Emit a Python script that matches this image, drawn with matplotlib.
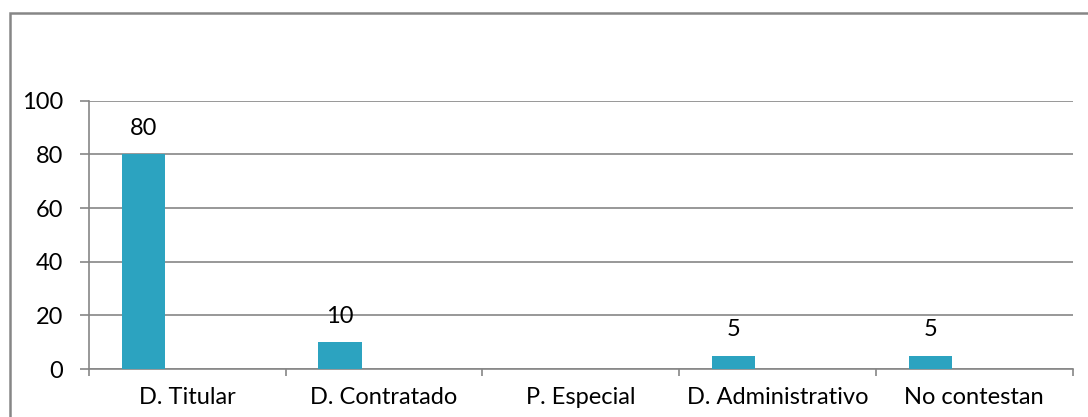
import matplotlib.pyplot as plt
from matplotlib.patches import Rectangle
import numpy as np

categorias = ['D. Titular', 'D. Contratado', 'P. Especial', 'D. Administrativo', 'No contestan']
valores = [80, 10, None, 5, 5]
ticks_y = [0, 20, 40, 60, 80, 100]

gris = '#868686'
azul = '#2CA3C0'

plt.rcParams['font.family'] = ['Lato', 'DejaVu Sans']

fig = plt.figure(figsize=(10.88, 4.17), dpi=100)
ax = fig.add_axes([89 / 1088, 1 - 369 / 417, (1072.5 - 89) / 1088, (369 - 100.7) / 417])

# borde exterior del grafico
fig.patches.append(Rectangle((10 / 1088, -0.1), 1.2, 1 - 13 / 417 + 0.1,
                             transform=fig.transFigure, fill=False,
                             edgecolor=gris, linewidth=1.8))

x = np.arange(len(categorias))
for i, v in enumerate(valores):
    if v is None:
        continue
    ax.bar(x[i] - 0.223, v, width=0.221, color=azul, zorder=3)
    ax.annotate(str(v), (x[i] - 0.223, v), xytext=(0, 11), textcoords='offset points',
                ha='center', va='bottom', fontsize=17, color='black')

ax.set_xlim(-0.5, len(categorias) - 0.5)
ax.set_ylim(0, 100)
ax.set_yticks(ticks_y)
ax.set_xticks(x)
ax.set_xticklabels(categorias)
ax.set_xticks(np.arange(len(categorias) + 1) - 0.5, minor=True)

ax.grid(axis='y', color=gris, linewidth=1.2, zorder=0)
ax.set_axisbelow(True)
for s in ['top', 'right']:
    ax.spines[s].set_visible(False)
for s in ['left', 'bottom']:
    ax.spines[s].set_color(gris)
    ax.spines[s].set_linewidth(1.2)

ax.tick_params(axis='y', length=6.5, width=1.2, color=gris, pad=12, labelsize=17)
ax.tick_params(axis='x', which='major', length=0, pad=13, labelsize=17)
ax.tick_params(axis='x', which='minor', length=5, width=1.2, color=gris)

fig.savefig('out.png', dpi=100)
